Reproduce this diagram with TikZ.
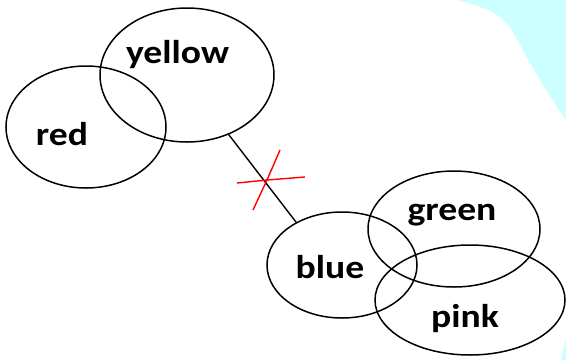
\documentclass[tikz,border=0pt]{standalone}
\usepackage{fontspec}
\setmainfont{Carlito}
\newfontfamily\lblfont[FakeStretch=1.14]{Carlito}
\usetikzlibrary{shapes.geometric}
\definecolor{bgcyan}{RGB}{204,255,255}
\tikzset{
  set/.style={ellipse, draw=black, line width=1.5pt, inner sep=0pt},
  lbl/.style={anchor=base, inner sep=0pt, font=\lblfont\bfseries\fontsize{33}{33}\selectfont, text=black},
  link/.style={draw=black, line width=1.4pt},
  cut/.style={draw=red, line width=1.4pt}
}
\begin{document}
\begin{tikzpicture}[x=1pt,y=-1pt]
\useasboundingbox (0,0) rectangle (566,360);
\fill[white] (0,0) rectangle (566,360);
% cyan background corner
\fill[bgcyan] (457,0) .. controls (485,7) and (502,14) .. (512,30) .. controls (528,60) and (548,95) .. (566,120) -- (566,0) -- cycle;
\fill[bgcyan] (566,338) -- (561,360) -- (566,360) -- cycle;
% sets
\node[set, minimum width=174pt, minimum height=134pt] (yellow) at (187,75) {};
\node[set, minimum width=160pt, minimum height=122pt] (red) at (86,127) {};
\node[set, minimum width=150pt, minimum height=106pt] (blue) at (342,265) {};
\node[set, minimum width=172pt, minimum height=116pt] (green) at (454,229) {};
\node[set, minimum width=190pt, minimum height=110pt] (pink) at (470,300) {};
% labels
\node[lbl] (tyellow) at (177.5,63) {yellow};
\node[lbl] (tred) at (62,145) {red};
\node[lbl] (tblue) at (330,278) {blue};
\node[lbl] (tgreen) at (452,220) {green};
\node[lbl] (tpink) at (465,327) {pink};
% connector
\draw[link] (yellow.-55) -- (blue.137);
% red cross
\coordinate (x) at (267,180);
\draw[cut] (237,183) -- (x) -- (305,177);
\draw[cut] (280,150) -- (x) -- (253,210);
\end{tikzpicture}
\end{document}
